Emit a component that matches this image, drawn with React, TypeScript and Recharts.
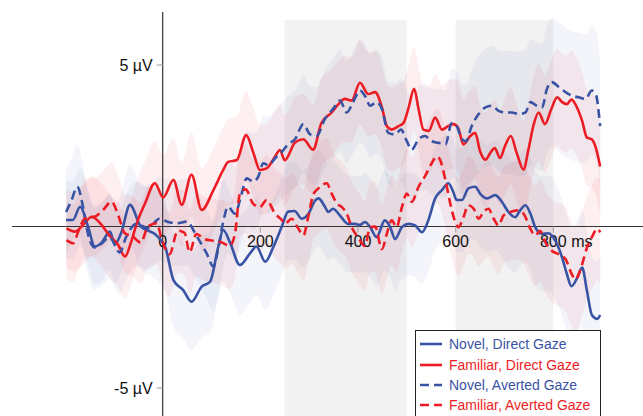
import React from 'react';
import {
  ComposedChart,
  Line,
  Area,
  XAxis,
  YAxis,
  ReferenceLine,
  ReferenceArea,
  Legend,
} from 'recharts';

// ---------- colours / names ----------
const BLUE = '#3953a4';
const RED = '#ed1c24';

const seriesNames = [
  'Novel, Direct Gaze',
  'Familiar, Direct Gaze',
  'Novel, Averted Gaze',
  'Familiar, Averted Gaze',
];

// ---------- axis ticks ----------
const xTicks = [0, 200, 400, 600, 800];
const xTickLabels = ['0', '200', '400', '600', '800'];
const xUnit = ' ms';
const yTicks = [5, -5];
const yTickLabels = ['5 µV', '-5 µV'];

// analysis windows (ms)
const windowStarts = [250, 600];
const windowEnds = [500, 800];
const windowTop = 6.39;

// ---------- Novel, Direct Gaze (blue solid) ----------
const novelDirectT = [
  -198, -184, -169, -153, -139, -125, -108, -98, -85, -67, -45, -30, -16, -3, 5, 22, 42, 59, 80, 97,
  114, 124, 138, 158, 179, 192, 210, 227, 244, 257, 270, 285, 299, 312, 319, 332, 339,
  349, 363, 380, 394, 404, 414, 425, 438, 455, 466, 476, 490, 503, 517, 531, 544, 558, 572, 585, 595,
  602, 613, 626, 640, 650, 664, 681, 695, 708, 722, 732, 743, 753, 763, 777, 790, 804, 818, 828, 837,
  849, 859, 869, 879, 890, 896,
];
const novelDirectV = [
  0.2, 0.2, 0.61, 0.0, -0.62, -0.5, -0.16, -0.55, -0.2, 0.67, 0.0, -0.13, -0.23, -0.44, -0.62, -1.66, -1.97, -2.33, -1.86, -1.71,
  -0.62, -0.11, -0.5, -1.19, -0.83, -0.62, -1.09, -0.62, 0.0, 0.46, 0.48, 0.24, 0.4, 0.8, 0.87, 0.62, 0.45,
  0.55, 0.34, 0.08, 0.08, 0.05, 0.14, -0.02, -0.33, 0.19, -0.02, -0.39, -0.02, 0.08, 0.03, -0.18, 0.19, 0.87, 1.13, 1.34, 1.08,
  0.82, 0.82, 1.18, 1.23, 1.02, 0.87, 0.97, 0.76, 0.45, 0.29, 0.5, 0.66, 0.4, -0.02, -0.23, -0.21, -0.44, -0.96, -1.48, -1.85,
  -1.59, -1.27, -2.0, -2.74, -2.86, -2.74,
];

// ---------- Familiar, Direct Gaze (red solid) ----------
const familiarDirectT = [
  -197, -180, -163, -145, -128, -108, -92, -77, -65, -53, -36, -16, 1, 22, 39, 59, 80, 104, 124, 134,
  152, 171, 186, 199, 213, 230, 240, 250, 271, 288, 308, 325, 346, 360, 373, 387, 404, 421, 435,
  449, 459, 469, 483, 493, 503, 515, 524, 534, 545, 558, 572, 585, 595, 605, 616, 630, 640, 650, 661,
  671, 680, 691, 701, 713, 725, 739, 749, 760, 770, 783, 796, 808, 818, 828, 837, 845, 859, 869, 879,
  886, 896,
];
const familiarDirectV = [
  -0.06, -0.16, 0.05, 0.3, 0.1, -0.3, -0.55, -0.93, -0.5, 0.1, 0.72, 1.34, 0.9, 1.44, 0.67, 1.6, 0.51, 1.13, 1.75, 2.0,
  2.06, 2.83, 2.27, 1.75, 1.8, 2.16, 2.37, 2.05, 2.6, 2.7, 2.38, 3.2, 3.53, 3.79, 3.95, 3.9, 4.45, 4.1, 4.16,
  3.69, 3.11, 3.0, 3.11, 3.2, 3.64, 4.26, 3.64, 3.0, 2.96, 3.37, 3.0, 3.11, 3.17, 3.06, 2.54, 2.8, 2.9, 2.33, 2.07,
  2.28, 2.43, 2.12, 2.49, 2.8, 2.28, 1.76, 2.38, 3.17, 3.53, 3.17, 3.64, 4.0, 3.85, 3.79, 3.93, 3.79, 3.27, 2.75, 2.7,
  2.49, 1.86,
];

// ---------- Novel, Averted Gaze (blue dashed) ----------
const novelAvertedT = [
  -198, -187, -175, -163, -153, -139, -126, -109, -88, -75, -54, -30, -6, 11, 29, 49, 70, 90, 104,
  114, 124, 134, 148, 162, 172, 186, 196, 206, 216, 233, 245, 257, 271, 288, 302, 315, 332, 349, 363,
  377, 390, 404, 414, 425, 438, 449, 462, 476, 488, 500, 510, 524, 537, 551, 565, 579, 592, 602, 613,
  621, 633, 647, 661, 674, 688, 701, 715, 729, 743, 753, 766, 777, 787, 797, 811, 825, 838, 852, 866,
  879, 888, 893, 896,
];
const novelAvertedV = [
  0.45, 0.8, 1.23, 0.6, -0.23, -0.65, -0.54, -0.33, -0.8, -0.33, 0.08, -0.05, 0.25, 0.14, 0.1, 0.15, -0.31, -0.83, -1.24,
  -0.67, 0.15, 0.61, 0.4, 1.03, 1.49, 1.39, 1.55, 1.96, 1.9, 2.16, 2.33, 2.55, 2.7, 3.17, 2.85, 2.8, 3.32, 3.64, 3.9,
  3.53, 3.85, 4.21, 4.05, 3.74, 3.85, 3.64, 2.9, 2.85, 3.0, 2.64, 2.38, 2.7, 2.8, 2.64, 2.59, 2.54, 3.2, 3.11, 2.7,
  2.64, 3.11, 3.48, 3.69, 3.74, 3.58, 3.53, 3.53, 3.48, 3.53, 3.85, 3.74, 3.69, 4.26, 4.47, 4.32, 4.16, 4.05, 4.0, 3.95,
  4.21, 4.05, 3.53, 3.11,
];

// ---------- Familiar, Averted Gaze (red dashed) ----------
const familiarAvertedT = [
  -197, -183, -173, -159, -140, -122, -105, -91, -78, -62, -45, -30, -12, -2, 14, 31, 45, 55,
  69, 86, 103, 120, 137, 148, 158, 170, 185, 199, 213, 230, 244, 250, 264, 278, 288, 298, 308, 319,
  336, 346, 357, 367, 377, 387, 401, 414, 425, 435, 449, 459, 469, 479, 490, 500, 510, 524, 537, 551,
  561, 568, 579, 589, 599, 606, 616, 626, 637, 647, 657, 667, 678, 688, 698, 712, 725, 739, 753, 763,
  773, 784, 797, 811, 825, 838, 845, 852, 859, 869, 879, 890, 896,
];
const familiarAvertedV = [
  -0.42, -0.52, -0.16, 0.25, 0.3, 0.51, 0.77, 0.35, -0.2, -0.3, -0.5, 0.0, 0.1, -0.4, -0.86, -0.13, -0.2, -0.8,
  -0.23, -0.39, -0.44, -0.49, -0.6, -0.23, 1.0, 1.15, 0.71, 0.6, 0.82, 0.4, 0.2, 0.08, 0.24, -0.07, -0.28, 0.29, 0.97, 1.18,
  1.34, 1.02, 0.71, 0.6, 0.4, -0.02, -0.35, -0.6, -0.02, 0.0, -0.7, -0.23, 0.19, -0.02, 0.6, 1.02, 0.76, 1.23, 1.55, 1.96,
  2.17, 2.07, 1.44, 0.71, 0.15, -0.02, 0.29, 0.66, 0.55, 0.24, 0.45, 0.55, 0.24, 0.03, 0.34, 0.45, 0.5, 0.4, -0.07, -0.28,
  -0.13, -0.49, -0.75, -0.86, -1.01, -1.48, -1.64, -1.48, -1.17, -0.65, -0.33, -0.07, -0.18,
];

// ---------- error band half-widths (µV), read at coarse times ----------
const bandT = [-200, -100, 0, 100, 200, 300, 400, 500, 600, 700, 800, 900];
const novelDirectSE = [1.2, 1.2, 1.4, 1.6, 1.5, 1.5, 1.5, 1.6, 1.6, 1.7, 1.8, 1.8];
const familiarDirectSE = [1.2, 1.3, 1.3, 1.3, 1.4, 1.4, 1.3, 1.3, 1.4, 1.5, 1.5, 1.5];
const novelAvertedSE = [1.3, 1.3, 1.3, 1.4, 1.5, 1.5, 1.6, 1.6, 1.7, 1.9, 2.0, 2.0];
const familiarAvertedSE = [1.2, 1.2, 1.3, 1.3, 1.4, 1.4, 1.4, 1.4, 1.5, 1.5, 1.6, 1.6];

// ---------- layout constants ----------
const W = 643;
const H = 416;
const X_MIN = -308.6;
const X_MAX = 983.7;
const Y_MIN = -5.867;
const Y_MAX = 6.641;
const FONT = '"Liberation Sans", Arial, Helvetica, sans-serif';

// ---------- table builders ----------
function seAt(se: number[], t: number): number {
  if (t <= bandT[0]) return se[0];
  for (let i = 1; i < bandT.length; i++) {
    if (t <= bandT[i]) {
      const f = (t - bandT[i - 1]) / (bandT[i] - bandT[i - 1]);
      return se[i - 1] + f * (se[i] - se[i - 1]);
    }
  }
  return se[se.length - 1];
}
function toLine(ts: number[], vs: number[]) {
  return ts.map((t, i) => ({ t, v: vs[i] }));
}
function toBand(ts: number[], vs: number[], se: number[]) {
  return ts.map((t, i) => {
    const s = seAt(se, t);
    return { t, band: [vs[i] - s, vs[i] + s] };
  });
}

const series = [
  { name: seriesNames[0], color: BLUE, dash: undefined as string | undefined, line: toLine(novelDirectT, novelDirectV), band: toBand(novelDirectT, novelDirectV, novelDirectSE) },
  { name: seriesNames[1], color: RED, dash: undefined as string | undefined, line: toLine(familiarDirectT, familiarDirectV), band: toBand(familiarDirectT, familiarDirectV, familiarDirectSE) },
  { name: seriesNames[2], color: BLUE, dash: '9 5', line: toLine(novelAvertedT, novelAvertedV), band: toBand(novelAvertedT, novelAvertedV, novelAvertedSE) },
  { name: seriesNames[3], color: RED, dash: '9 5', line: toLine(familiarAvertedT, familiarAvertedV), band: toBand(familiarAvertedT, familiarAvertedV, familiarAvertedSE) },
];

const renderLegend = () => (
  <div
    style={{
      border: '1.5px solid #222',
      background: '#fff',
      width: 186,
      height: 92,
      boxSizing: 'border-box',
      paddingTop: 3,
      paddingLeft: 3,
      fontFamily: FONT,
      fontSize: 14,
    }}
  >
    {series.map((s) => (
      <div key={s.name} style={{ display: 'flex', alignItems: 'center', height: 20.4 }}>
        <svg width={24} height={6} style={{ display: 'block' }}>
          <line x1={1} x2={23} y1={3} y2={3} stroke={s.color} strokeWidth={2.6} strokeDasharray={s.dash ? '9 5' : undefined} />
        </svg>
        <span style={{ marginLeft: 6, color: s.color, lineHeight: '16px' }}>{s.name}</span>
      </div>
    ))}
  </div>
);

const renderXTickLabel = (label: string, withUnit: boolean) => (props: any) => {
  const vb = props.viewBox || {};
  const cx = vb.x + (vb.width || 0) / 2;
  const y = vb.y + (vb.height || 0) + 15;
  return (
    <g>
      <text x={cx} y={y} textAnchor="middle" fontFamily={FONT} fontSize={16} fill="#111">
        {label}
      </text>
      {withUnit ? (
        <text x={cx + 13.5} y={y} textAnchor="start" fontFamily={FONT} fontSize={16} fill="#111" style={{ whiteSpace: 'pre' }}>
          {xUnit}
        </text>
      ) : null}
    </g>
  );
};

export default function App() {
  const tickLenY = 6 / 32.3;
  const tickLenX = 6 / 0.48825;
  return (
    <div style={{ position: 'absolute', left: 0, top: 0, width: W, height: H, background: '#fff' }}>
      <ComposedChart width={W} height={H} margin={{ top: 12, right: 0, bottom: 0, left: 12 }}>
        <XAxis type="number" dataKey="t" domain={[X_MIN, X_MAX]} hide allowDataOverflow />
        <YAxis type="number" domain={[Y_MIN, Y_MAX]} hide allowDataOverflow />

        {windowStarts.map((x1, i) => (
          <ReferenceArea
            key={'w' + i}
            x1={x1}
            x2={windowEnds[i]}
            y1={Y_MIN}
            y2={windowTop}
            fill="#f2f2f2"
            fillOpacity={1}
            stroke="none"
            ifOverflow="visible"
          />
        ))}

        {series.map((s, i) => (
          <Area
            key={'b' + i}
            data={s.band}
            dataKey="band"
            type="monotone"
            stroke="none"
            fill={s.color}
            fillOpacity={s.color === RED ? 0.07 : 0.06}
            isAnimationActive={false}
            legendType="none"
          />
        ))}

        <ReferenceLine y={0} stroke="#333" strokeWidth={1.2} />
        <ReferenceLine x={0} stroke="#333" strokeWidth={1.2} />

        {xTicks.map((t, i) => (
          <ReferenceLine
            key={'xt' + i}
            segment={[{ x: t, y: 0 }, { x: t, y: -tickLenY }]}
            stroke={t === 0 ? 'none' : '#aaa'}
            strokeWidth={1.2}
            label={{ content: renderXTickLabel(xTickLabels[i], i === xTicks.length - 1) }}
          />
        ))}

        {yTicks.map((v, i) => (
          <ReferenceLine
            key={'yt' + i}
            segment={[{ x: -tickLenX, y: v }, { x: 0, y: v }]}
            stroke="#aaa"
            strokeWidth={1.2}
            label={{ value: yTickLabels[i], position: 'left', offset: 4, fontFamily: FONT, fontSize: 16, fill: '#111' }}
          />
        ))}

        {series.map((s, i) => (
          <Line
            key={'l' + i}
            data={s.line}
            dataKey="v"
            name={s.name}
            type="monotone"
            stroke={s.color}
            strokeWidth={2.6}
            strokeDasharray={s.dash}
            dot={false}
            activeDot={false}
            isAnimationActive={false}
          />
        ))}

        <Legend
          layout="vertical"
          align="center"
          verticalAlign="middle"
          content={renderLegend}
          wrapperStyle={{ position: 'absolute', left: 415, top: 330, width: 186, height: 92 }}
        />
      </ComposedChart>
    </div>
  );
}
